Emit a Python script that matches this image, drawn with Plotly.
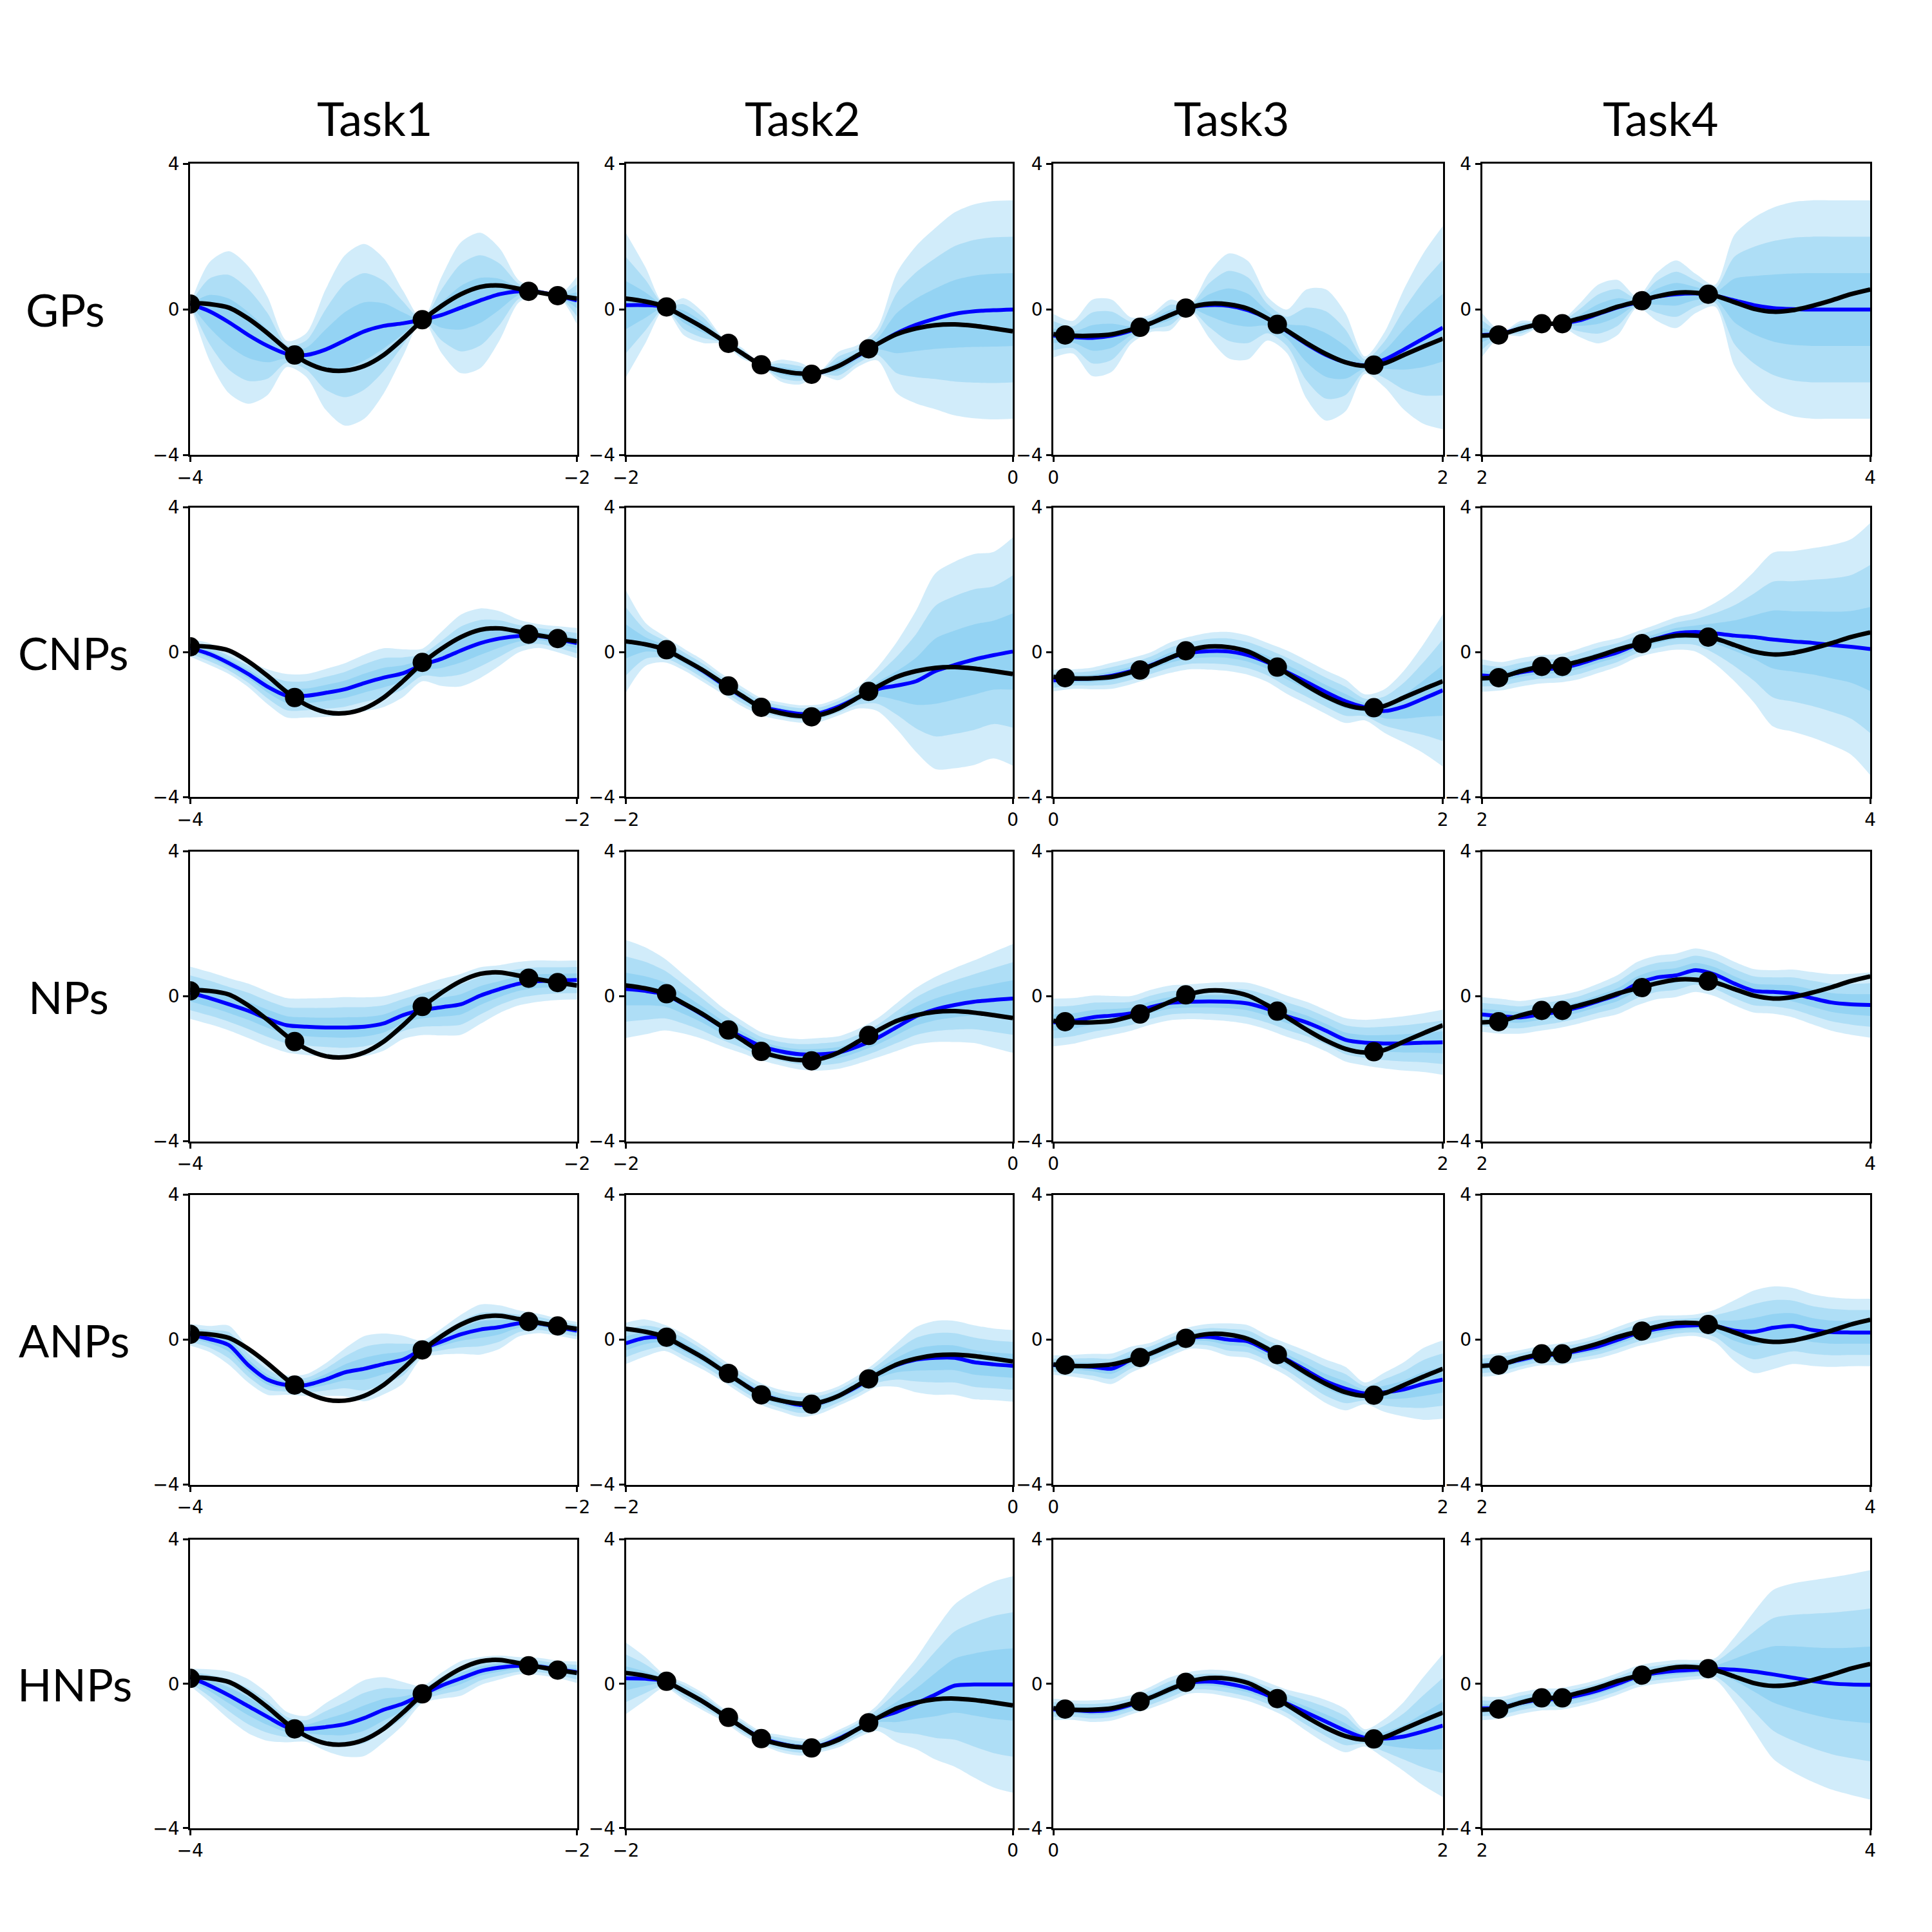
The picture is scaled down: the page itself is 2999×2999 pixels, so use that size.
import plotly.graph_objects as go

# ---------------------------------------------------------------- data
MODELS = ["GPs", "CNPs", "NPs", "ANPs", "HNPs"]
TASKS = ["Task1", "Task2", "Task3", "Task4"]
TASK_STARTS = [-4, -2, 0, 2]
OFFSETS = [0.0, 0.1, 0.2, 0.3, 0.4, 0.5, 0.6, 0.7, 0.8, 0.9, 1.0,
           1.1, 1.2, 1.3, 1.4, 1.5, 1.6, 1.7, 1.8, 1.9, 2.0]
Y_TICKS = [-4, 0, 4]

# ground truth per task (same for every model)
truth_t1 = [0.18, 0.15, 0.05, -0.25, -0.65, -1.1, -1.45, -1.65, -1.68, -1.55, -1.25,
            -0.8, -0.3, 0.1, 0.42, 0.62, 0.66, 0.57, 0.47, 0.38, 0.3]
truth_t2 = [0.3, 0.22, 0.08, -0.2, -0.5, -0.85, -1.2, -1.53, -1.68, -1.76, -1.73,
            -1.55, -1.25, -0.95, -0.68, -0.52, -0.43, -0.41, -0.45, -0.52, -0.6]
truth_t3 = [-0.68, -0.72, -0.72, -0.68, -0.55, -0.38, -0.15, 0.06, 0.16, 0.14, 0.02,
            -0.25, -0.58, -0.92, -1.22, -1.45, -1.55, -1.48, -1.25, -1.02, -0.8]
truth_t4 = [-0.72, -0.68, -0.52, -0.4, -0.38, -0.25, -0.1, 0.08, 0.22, 0.36, 0.46,
            0.46, 0.38, 0.2, 0.02, -0.06, -0.02, 0.1, 0.25, 0.42, 0.55]

# context points per task
ctx_x_t1 = [-4.0, -3.46, -2.80, -2.25, -2.10]
ctx_y_t1 = [0.15, -1.25, -0.28, 0.5, 0.38]
ctx_x_t2 = [-1.79, -1.47, -1.30, -1.04, -0.745]
ctx_y_t2 = [0.07, -0.93, -1.52, -1.78, -1.08]
ctx_x_t3 = [0.06, 0.445, 0.68, 1.15, 1.646]
ctx_y_t3 = [-0.7, -0.49, 0.04, -0.41, -1.53]
ctx_x_t4 = [2.085, 2.307, 2.413, 2.823, 3.165]
ctx_y_t4 = [-0.7, -0.39, -0.39, 0.24, 0.42]

# GPs
gp_mean_t1 = [0.15, -0.05, -0.35, -0.7, -1.0, -1.22, -1.25, -1.1, -0.85, -0.6, -0.45,
              -0.38, -0.28, -0.15, 0.05, 0.25, 0.42, 0.5, 0.48, 0.38, 0.25]
gp_std_t1 = [0.0, 0.45, 0.65, 0.63, 0.45, 0.12, 0.2, 0.55, 0.78, 0.8, 0.62,
             0.3, 0.0, 0.35, 0.6, 0.62, 0.42, 0.1, 0.03, 0.0, 0.22]
gp_mean_t2 = [0.12, 0.12, 0.07, -0.2, -0.5, -0.85, -1.2, -1.52, -1.68, -1.76, -1.74,
              -1.55, -1.27, -0.95, -0.65, -0.42, -0.25, -0.12, -0.05, -0.02, 0.0]
gp_std_t2 = [0.66, 0.35, 0.02, 0.17, 0.14, 0.03, 0.05, 0.01, 0.1, 0.1, 0.02,
             0.13, 0.1, 0.15, 0.55, 0.72, 0.83, 0.93, 0.98, 1.0, 1.0]
gp_mean_t3 = [-0.72, -0.76, -0.78, -0.72, -0.58, -0.38, -0.15, 0.05, 0.12, 0.1, -0.02,
              -0.25, -0.6, -0.95, -1.25, -1.45, -1.53, -1.38, -1.1, -0.8, -0.5]
gp_std_t3 = [0.2, 0.15, 0.35, 0.33, 0.12, 0.08, 0.14, 0.03, 0.3, 0.48, 0.45,
             0.2, 0.2, 0.5, 0.6, 0.45, 0.08, 0.25, 0.55, 0.78, 0.93]
gp_mean_t4 = [-0.7, -0.66, -0.52, -0.41, -0.39, -0.3, -0.12, 0.06, 0.2, 0.35, 0.42,
              0.44, 0.38, 0.25, 0.12, 0.04, 0.01, 0.0, 0.0, 0.0, 0.0]
gp_std_t4 = [0.2, 0.02, 0.07, 0.02, 0.02, 0.15, 0.27, 0.25, 0.05, 0.22, 0.31,
             0.18, 0.1, 0.6, 0.8, 0.92, 0.98, 1.0, 1.0, 1.0, 1.0]

# CNPs
cnp_mean_t1 = [0.12, -0.05, -0.3, -0.6, -0.95, -1.2, -1.2, -1.12, -1.02, -0.85, -0.7,
               -0.58, -0.35, -0.18, 0.05, 0.25, 0.38, 0.45, 0.45, 0.36, 0.25]
cnp_std_t1 = [0.08, 0.1, 0.1, 0.12, 0.16, 0.2, 0.2, 0.22, 0.24, 0.26, 0.27,
              0.22, 0.15, 0.25, 0.33, 0.32, 0.25, 0.15, 0.11, 0.12, 0.14]
cnp_mean_t2 = [0.3, 0.22, 0.08, -0.2, -0.52, -0.88, -1.22, -1.5, -1.62, -1.7, -1.68,
               -1.5, -1.25, -1.02, -0.92, -0.8, -0.52, -0.35, -0.2, -0.08, 0.02]
cnp_std_t2 = [0.47, 0.2, 0.12, 0.1, 0.1, 0.09, 0.09, 0.08, 0.08, 0.08, 0.08,
              0.08, 0.1, 0.2, 0.4, 0.65, 0.9, 0.95, 0.97, 0.95, 1.05]
cnp_mean_t3 = [-0.78, -0.74, -0.72, -0.65, -0.52, -0.36, -0.15, -0.02, 0.03, 0.02, -0.08,
               -0.28, -0.55, -0.82, -1.1, -1.35, -1.52, -1.62, -1.5, -1.28, -1.05]
cnp_std_t3 = [0.1, 0.09, 0.1, 0.12, 0.12, 0.12, 0.14, 0.15, 0.17, 0.18, 0.18,
              0.18, 0.2, 0.2, 0.2, 0.2, 0.12, 0.2, 0.33, 0.5, 0.7]
cnp_mean_t4 = [-0.64, -0.66, -0.55, -0.47, -0.44, -0.32, -0.15, 0.0, 0.22, 0.38, 0.52,
               0.56, 0.52, 0.46, 0.42, 0.35, 0.3, 0.26, 0.2, 0.15, 0.09]
cnp_std_t4 = [0.15, 0.13, 0.13, 0.13, 0.13, 0.14, 0.14, 0.13, 0.12, 0.13, 0.15,
              0.18, 0.28, 0.42, 0.6, 0.8, 0.83, 0.87, 0.92, 0.99, 1.16]

# NPs
np_mean_t1 = [0.1, -0.05, -0.22, -0.4, -0.62, -0.8, -0.84, -0.86, -0.86, -0.84, -0.75,
              -0.52, -0.38, -0.3, -0.22, 0.02, 0.2, 0.35, 0.42, 0.44, 0.45]
np_std_t1 = [0.24, 0.24, 0.24, 0.25, 0.25, 0.25, 0.26, 0.27, 0.28, 0.27, 0.25,
             0.22, 0.23, 0.26, 0.28, 0.26, 0.22, 0.2, 0.19, 0.18, 0.18]
np_mean_t2 = [0.2, 0.15, 0.05, -0.22, -0.52, -0.85, -1.12, -1.38, -1.52, -1.6, -1.6,
              -1.55, -1.38, -1.15, -0.85, -0.55, -0.36, -0.24, -0.15, -0.1, -0.06]
np_std_t2 = [0.45, 0.4, 0.33, 0.27, 0.22, 0.18, 0.15, 0.13, 0.13, 0.14, 0.15,
             0.15, 0.16, 0.18, 0.22, 0.26, 0.3, 0.34, 0.38, 0.44, 0.5]
np_mean_t3 = [-0.72, -0.68, -0.58, -0.53, -0.47, -0.3, -0.18, -0.15, -0.14, -0.15, -0.2,
              -0.35, -0.55, -0.72, -0.95, -1.2, -1.28, -1.3, -1.3, -1.28, -1.27]
np_std_t3 = [0.22, 0.21, 0.2, 0.18, 0.16, 0.16, 0.16, 0.16, 0.17, 0.18, 0.19,
             0.19, 0.19, 0.19, 0.19, 0.2, 0.21, 0.23, 0.25, 0.27, 0.3]
np_mean_t4 = [-0.5, -0.55, -0.58, -0.5, -0.42, -0.3, -0.13, 0.05, 0.35, 0.52, 0.58,
              0.72, 0.6, 0.35, 0.15, 0.12, 0.08, -0.05, -0.17, -0.22, -0.24]
np_std_t4 = [0.16, 0.16, 0.15, 0.15, 0.15, 0.15, 0.16, 0.18, 0.2, 0.2, 0.2,
             0.2, 0.2, 0.2, 0.2, 0.2, 0.22, 0.24, 0.26, 0.28, 0.3]

# ANPs
anp_mean_t1 = [0.14, 0.02, -0.15, -0.7, -1.1, -1.25, -1.25, -1.1, -0.9, -0.8, -0.67,
               -0.55, -0.26, -0.05, 0.15, 0.28, 0.35, 0.45, 0.45, 0.35, 0.25]
anp_std_t1 = [0.1, 0.12, 0.18, 0.16, 0.14, 0.09, 0.1, 0.15, 0.22, 0.3, 0.28,
              0.22, 0.08, 0.12, 0.18, 0.23, 0.2, 0.12, 0.09, 0.08, 0.08]
anp_mean_t2 = [-0.1, 0.05, 0.05, -0.2, -0.5, -0.85, -1.2, -1.5, -1.68, -1.8, -1.75,
               -1.55, -1.28, -0.95, -0.7, -0.55, -0.5, -0.5, -0.62, -0.68, -0.72]
anp_std_t2 = [0.19, 0.17, 0.12, 0.12, 0.11, 0.1, 0.1, 0.1, 0.1, 0.11, 0.1,
              0.09, 0.1, 0.12, 0.2, 0.3, 0.34, 0.34, 0.34, 0.33, 0.33]
anp_mean_t3 = [-0.7, -0.72, -0.75, -0.8, -0.55, -0.38, -0.15, 0.05, 0.08, 0.0, -0.05,
               -0.3, -0.55, -0.85, -1.15, -1.35, -1.48, -1.45, -1.37, -1.22, -1.1]
anp_std_t3 = [0.09, 0.1, 0.12, 0.14, 0.12, 0.1, 0.1, 0.1, 0.12, 0.15, 0.15,
              0.14, 0.15, 0.18, 0.2, 0.2, 0.1, 0.18, 0.25, 0.33, 0.36]
anp_mean_t4 = [-0.72, -0.67, -0.55, -0.44, -0.4, -0.3, -0.18, 0.0, 0.18, 0.3, 0.37,
               0.4, 0.38, 0.25, 0.22, 0.33, 0.38, 0.27, 0.21, 0.2, 0.2]
anp_std_t4 = [0.1, 0.1, 0.09, 0.09, 0.1, 0.1, 0.11, 0.12, 0.12, 0.12, 0.1,
              0.1, 0.15, 0.28, 0.38, 0.38, 0.35, 0.33, 0.32, 0.31, 0.31]

# HNPs
hnp_mean_t1 = [0.18, -0.05, -0.32, -0.62, -0.92, -1.2, -1.25, -1.2, -1.12, -0.95, -0.72,
               -0.55, -0.3, -0.05, 0.15, 0.35, 0.45, 0.5, 0.48, 0.4, 0.32]
hnp_std_t1 = [0.08, 0.15, 0.22, 0.25, 0.22, 0.14, 0.12, 0.22, 0.3, 0.35, 0.3,
              0.2, 0.08, 0.12, 0.16, 0.13, 0.11, 0.08, 0.08, 0.08, 0.1]
hnp_mean_t2 = [0.15, 0.14, 0.07, -0.2, -0.5, -0.85, -1.2, -1.5, -1.66, -1.75, -1.72,
               -1.52, -1.25, -0.95, -0.78, -0.55, -0.3, -0.05, -0.02, -0.02, -0.02]
hnp_std_t2 = [0.33, 0.2, 0.06, 0.08, 0.08, 0.06, 0.07, 0.06, 0.08, 0.08, 0.06,
              0.08, 0.08, 0.12, 0.28, 0.42, 0.6, 0.75, 0.86, 0.95, 1.0]
hnp_mean_t3 = [-0.71, -0.73, -0.76, -0.72, -0.58, -0.38, -0.15, 0.03, 0.06, 0.0, -0.12,
               -0.32, -0.55, -0.8, -1.05, -1.3, -1.5, -1.52, -1.46, -1.32, -1.16]
hnp_std_t3 = [0.1, 0.09, 0.1, 0.1, 0.09, 0.1, 0.11, 0.1, 0.11, 0.12, 0.12,
              0.12, 0.13, 0.17, 0.2, 0.2, 0.08, 0.18, 0.32, 0.5, 0.66]
hnp_mean_t4 = [-0.68, -0.66, -0.53, -0.44, -0.42, -0.32, -0.18, 0.0, 0.2, 0.3, 0.36,
               0.39, 0.41, 0.39, 0.34, 0.26, 0.17, 0.08, 0.01, -0.02, -0.03]
hnp_std_t4 = [0.11, 0.1, 0.1, 0.1, 0.1, 0.1, 0.1, 0.1, 0.1, 0.1, 0.1,
              0.09, 0.1, 0.3, 0.55, 0.78, 0.87, 0.93, 0.98, 1.02, 1.06]

truths = [truth_t1, truth_t2, truth_t3, truth_t4]
contexts = [(ctx_x_t1, ctx_y_t1), (ctx_x_t2, ctx_y_t2), (ctx_x_t3, ctx_y_t3), (ctx_x_t4, ctx_y_t4)]
predictions = [
    [(gp_mean_t1, gp_std_t1), (gp_mean_t2, gp_std_t2), (gp_mean_t3, gp_std_t3), (gp_mean_t4, gp_std_t4)],
    [(cnp_mean_t1, cnp_std_t1), (cnp_mean_t2, cnp_std_t2), (cnp_mean_t3, cnp_std_t3), (cnp_mean_t4, cnp_std_t4)],
    [(np_mean_t1, np_std_t1), (np_mean_t2, np_std_t2), (np_mean_t3, np_std_t3), (np_mean_t4, np_std_t4)],
    [(anp_mean_t1, anp_std_t1), (anp_mean_t2, anp_std_t2), (anp_mean_t3, anp_std_t3), (anp_mean_t4, anp_std_t4)],
    [(hnp_mean_t1, hnp_std_t1), (hnp_mean_t2, hnp_std_t2), (hnp_mean_t3, hnp_std_t3), (hnp_mean_t4, hnp_std_t4)],
]

# ---------------------------------------------------------------- layout geometry (pixels)
W = H = 2999
COL_LEFT = [270, 956, 1629, 2304]
COL_W = [609, 609, 613, 611]
ROW_TOP = [233, 772, 1312, 1851, 2392]
ROW_H = [457, 455, 455, 455, 453]
TITLE_X = [561, 1234, 1910, 2585]
TITLE_Y = 161
LABEL_X = [74, 86, 79, 87, 88]

BAND = "rgba(71,181,235,0.25)"
TICK_FONT = dict(family="DejaVu Sans", size=28, color="black")
TITLE_FONT = dict(family="Lato", size=72, color="black")
LABEL_FONT = dict(family="Lato", size=70, color="black")

fig = go.Figure()
layout = {}

for r, model in enumerate(MODELS):
    for c, task in enumerate(TASKS):
        i = r * 4 + c + 1
        xa = "x" if i == 1 else f"x{i}"
        ya = "y" if i == 1 else f"y{i}"
        x0 = TASK_STARTS[c]
        xs = [x0 + o for o in OFFSETS]
        mean, std = predictions[r][c]

        # 3 stacked uncertainty bands (1, 2, 3 std)
        for k in (3, 2, 1):
            lo = [m - k * s for m, s in zip(mean, std)]
            hi = [m + k * s for m, s in zip(mean, std)]
            fig.add_trace(go.Scatter(x=xs, y=lo, mode="lines", line=dict(width=0, shape="spline", smoothing=0.8),
                                     xaxis=xa, yaxis=ya, hoverinfo="skip", showlegend=False))
            fig.add_trace(go.Scatter(x=xs, y=hi, mode="lines", line=dict(width=0, shape="spline", smoothing=0.8),
                                     fill="tonexty", fillcolor=BAND,
                                     xaxis=xa, yaxis=ya, hoverinfo="skip", showlegend=False))

        fig.add_trace(go.Scatter(x=xs, y=mean, mode="lines",
                                 line=dict(color="#0000ff", width=6, shape="spline", smoothing=0.8),
                                 xaxis=xa, yaxis=ya, showlegend=False))
        fig.add_trace(go.Scatter(x=xs, y=truths[c], mode="lines",
                                 line=dict(color="black", width=7, shape="spline", smoothing=0.8),
                                 xaxis=xa, yaxis=ya, showlegend=False))
        cx, cy = contexts[c]
        fig.add_trace(go.Scatter(x=cx, y=cy, mode="markers",
                                 marker=dict(color="black", size=30),
                                 xaxis=xa, yaxis=ya, showlegend=False))

        left = COL_LEFT[c]
        top = ROW_TOP[r]
        common = dict(showline=True, linecolor="black", linewidth=3, mirror=True,
                      showgrid=False, zeroline=False, ticks="outside", ticklen=8,
                      tickwidth=2.5, tickcolor="black", tickfont=TICK_FONT)
        layout[f"xaxis{i}"] = dict(domain=[left / W, (left + COL_W[c]) / W], range=[x0, x0 + 2],
                                   anchor=ya, tickvals=[x0, x0 + 2], **common)
        layout[f"yaxis{i}"] = dict(domain=[1 - (top + ROW_H[r]) / H, 1 - top / H], range=[-4, 4],
                                   anchor=xa, tickvals=Y_TICKS, **common)

annotations = []
for c, task in enumerate(TASKS):
    annotations.append(dict(text=task, x=TITLE_X[c] / W, y=1 - TITLE_Y / H, xref="paper", yref="paper",
                            showarrow=False, xanchor="center", yanchor="middle", font=TITLE_FONT))
for r, model in enumerate(MODELS):
    cy = ROW_TOP[r] + ROW_H[r] / 2
    annotations.append(dict(text=model, x=LABEL_X[r] / W, y=1 - cy / H, xref="paper", yref="paper",
                            showarrow=False, xanchor="center", yanchor="middle", font=LABEL_FONT))

fig.update_layout(width=W, height=H, margin=dict(l=0, r=0, t=0, b=0),
                  paper_bgcolor="white", plot_bgcolor="white",
                  showlegend=False, annotations=annotations, **layout)

fig.write_html("out.html")
